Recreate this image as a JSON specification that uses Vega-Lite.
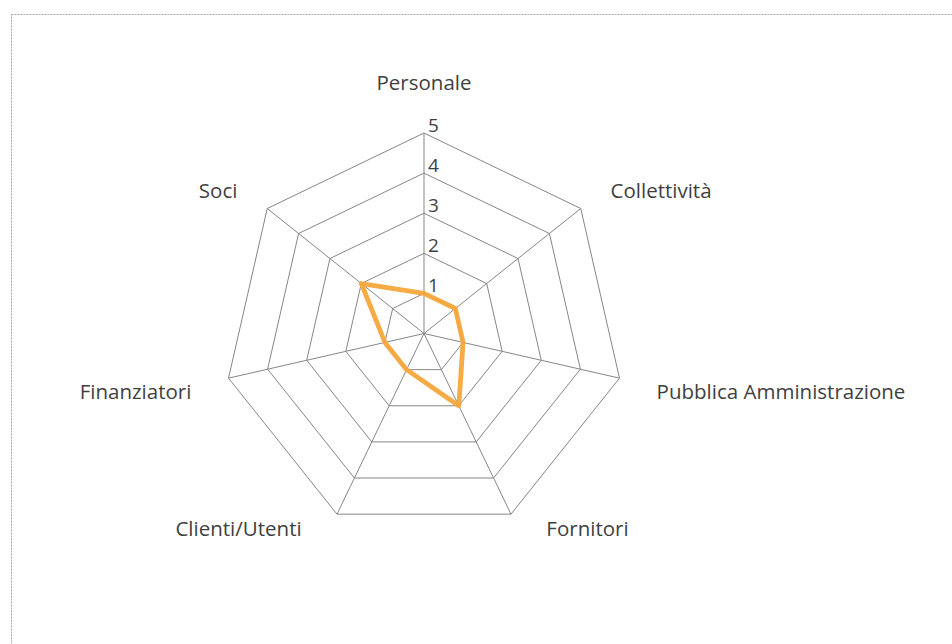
{
  "$schema": "https://vega.github.io/schema/vega-lite/v6.json",
  "width": 941,
  "height": 630,
  "autosize": {"type": "none"},
  "padding": {"left": 11, "top": 14, "right": 0, "bottom": 0},
  "background": "white",
  "config": {
    "view": {"stroke": "#a6a6a6", "strokeDash": [2, 1], "strokeWidth": 1},
    "text": {"font": "Open Sans", "fontSize": 20.5, "color": "#3f3f3f"}
  },
  "datasets": {
    "scores": [
      {"cat": "Personale", "i": 0, "value": 1},
      {"cat": "Collettività", "i": 1, "value": 1},
      {"cat": "Pubblica Amministrazione", "i": 2, "value": 1},
      {"cat": "Fornitori", "i": 3, "value": 2},
      {"cat": "Clienti/Utenti", "i": 4, "value": 1},
      {"cat": "Finanziatori", "i": 5, "value": 1},
      {"cat": "Soci", "i": 6, "value": 2}
    ],
    "grid": [
      {"level": 1, "i": 0}, {"level": 1, "i": 1}, {"level": 1, "i": 2}, {"level": 1, "i": 3}, {"level": 1, "i": 4}, {"level": 1, "i": 5}, {"level": 1, "i": 6},
      {"level": 2, "i": 0}, {"level": 2, "i": 1}, {"level": 2, "i": 2}, {"level": 2, "i": 3}, {"level": 2, "i": 4}, {"level": 2, "i": 5}, {"level": 2, "i": 6},
      {"level": 3, "i": 0}, {"level": 3, "i": 1}, {"level": 3, "i": 2}, {"level": 3, "i": 3}, {"level": 3, "i": 4}, {"level": 3, "i": 5}, {"level": 3, "i": 6},
      {"level": 4, "i": 0}, {"level": 4, "i": 1}, {"level": 4, "i": 2}, {"level": 4, "i": 3}, {"level": 4, "i": 4}, {"level": 4, "i": 5}, {"level": 4, "i": 6},
      {"level": 5, "i": 0}, {"level": 5, "i": 1}, {"level": 5, "i": 2}, {"level": 5, "i": 3}, {"level": 5, "i": 4}, {"level": 5, "i": 5}, {"level": 5, "i": 6}
    ]
  },
  "layer": [
    {
      "data": {"name": "grid"},
      "transform": [
        {"calculate": "datum.level * sin(datum.i * 2 * PI / 7)", "as": "gx"},
        {"calculate": "datum.level * cos(datum.i * 2 * PI / 7)", "as": "gy"}
      ],
      "mark": {"type": "line", "interpolate": "linear-closed", "stroke": "#868686", "strokeWidth": 1},
      "encoding": {
        "x": {"field": "gx", "type": "quantitative", "scale": {"domain": [-10.299, 13.167], "nice": false, "zero": false}, "axis": null},
        "y": {"field": "gy", "type": "quantitative", "scale": {"domain": [-7.743, 7.968], "nice": false, "zero": false}, "axis": null},
        "detail": {"field": "level"},
        "order": {"field": "i"}
      }
    },
    {
      "data": {"name": "grid"},
      "transform": [
        {"filter": "datum.level == 5"},
        {"calculate": "0", "as": "cx"},
        {"calculate": "0", "as": "cy"},
        {"calculate": "datum.level * sin(datum.i * 2 * PI / 7)", "as": "gx"},
        {"calculate": "datum.level * cos(datum.i * 2 * PI / 7)", "as": "gy"}
      ],
      "mark": {"type": "rule", "stroke": "#868686", "strokeWidth": 1},
      "encoding": {
        "x": {"field": "cx", "type": "quantitative"},
        "y": {"field": "cy", "type": "quantitative"},
        "x2": {"field": "gx"},
        "y2": {"field": "gy"}
      }
    },
    {
      "data": {"name": "scores"},
      "transform": [
        {"calculate": "datum.value * sin(datum.i * 2 * PI / 7)", "as": "px"},
        {"calculate": "datum.value * cos(datum.i * 2 * PI / 7)", "as": "py"}
      ],
      "mark": {"type": "line", "interpolate": "linear-closed", "stroke": "#F5A73B", "strokeWidth": 4.8, "strokeOpacity": 0.95, "strokeJoin": "round"},
      "encoding": {
        "x": {"field": "px", "type": "quantitative"},
        "y": {"field": "py", "type": "quantitative"},
        "order": {"field": "i"}
      }
    },
    {
      "data": {"name": "grid"},
      "transform": [
        {"filter": "datum.i == 0"},
        {"calculate": "0", "as": "tx"},
        {"calculate": "datum.level", "as": "ty"}
      ],
      "mark": {"type": "text", "align": "left", "baseline": "alphabetic", "dx": 4, "dy": -1, "fontSize": 19},
      "encoding": {
        "x": {"field": "tx", "type": "quantitative"},
        "y": {"field": "ty", "type": "quantitative"},
        "text": {"field": "level"}
      }
    },
    {
      "data": {"name": "scores"},
      "transform": [
        {"calculate": "sin(datum.i * 2 * PI / 7)", "as": "s"},
        {"calculate": "cos(datum.i * 2 * PI / 7)", "as": "c"},
        {"calculate": "5.95 * datum.s + (datum.c < -0.5 ? (datum.s > 0 ? 0.47 : -0.47) : 0)", "as": "lx"},
        {"calculate": "5.95 * datum.c + (datum.c < -0.5 ? 0.46 : (abs(datum.s) < 0.1 ? 0.27 : -0.17))", "as": "ly"},
        {"filter": "datum.s > 0.1"}
      ],
      "mark": {"type": "text", "align": "left", "baseline": "middle"},
      "encoding": {
        "x": {"field": "lx", "type": "quantitative"},
        "y": {"field": "ly", "type": "quantitative"},
        "text": {"field": "cat"}
      }
    },
    {
      "data": {"name": "scores"},
      "transform": [
        {"calculate": "sin(datum.i * 2 * PI / 7)", "as": "s"},
        {"calculate": "cos(datum.i * 2 * PI / 7)", "as": "c"},
        {"calculate": "5.95 * datum.s + (datum.c < -0.5 ? (datum.s > 0 ? 0.47 : -0.47) : 0)", "as": "lx"},
        {"calculate": "5.95 * datum.c + (datum.c < -0.5 ? 0.46 : (abs(datum.s) < 0.1 ? 0.27 : -0.17))", "as": "ly"},
        {"filter": "datum.s < -0.1"}
      ],
      "mark": {"type": "text", "align": "right", "baseline": "middle"},
      "encoding": {
        "x": {"field": "lx", "type": "quantitative"},
        "y": {"field": "ly", "type": "quantitative"},
        "text": {"field": "cat"}
      }
    },
    {
      "data": {"name": "scores"},
      "transform": [
        {"calculate": "sin(datum.i * 2 * PI / 7)", "as": "s"},
        {"calculate": "cos(datum.i * 2 * PI / 7)", "as": "c"},
        {"calculate": "5.95 * datum.s", "as": "lx"},
        {"calculate": "5.95 * datum.c + 0.27", "as": "ly"},
        {"filter": "abs(datum.s) <= 0.1"}
      ],
      "mark": {"type": "text", "align": "center", "baseline": "middle"},
      "encoding": {
        "x": {"field": "lx", "type": "quantitative"},
        "y": {"field": "ly", "type": "quantitative"},
        "text": {"field": "cat"}
      }
    }
  ]
}
